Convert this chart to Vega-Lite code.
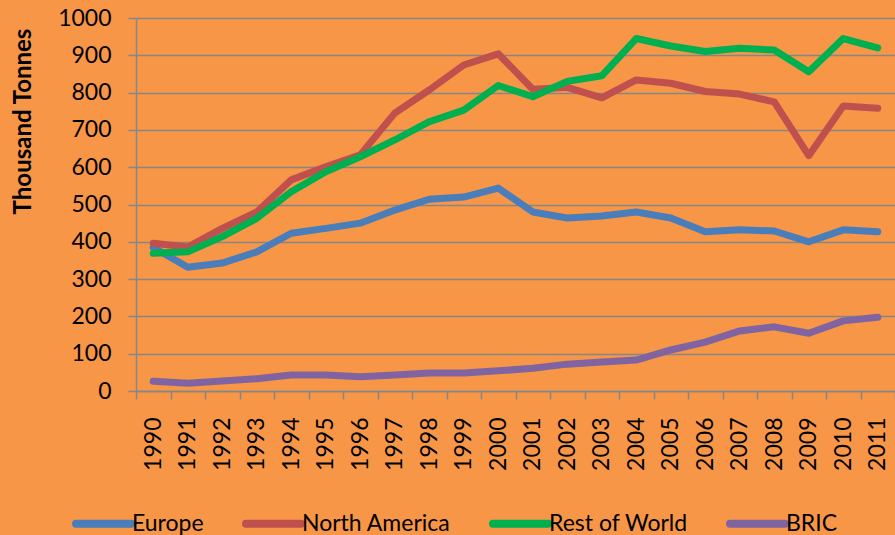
{
  "$schema": "https://vega.github.io/schema/vega-lite/v6.json",
  "autosize": "none",
  "width": 759,
  "height": 373,
  "padding": {"left": 136, "top": 18, "right": 0, "bottom": 144},
  "background": "#F79646",
  "config": {
    "view": {"stroke": null},
    "font": "Lato",
    "axis": {"labelFont": "Lato", "titleFont": "Lato", "labelColor": "#000000", "titleColor": "#000000"}
  },
  "data": {"values": [
    {"year":"1990","region":"Europe","value":385},{"year":"1991","region":"Europe","value":332},{"year":"1992","region":"Europe","value":343},{"year":"1993","region":"Europe","value":373},{"year":"1994","region":"Europe","value":423},{"year":"1995","region":"Europe","value":436},{"year":"1996","region":"Europe","value":450},{"year":"1997","region":"Europe","value":485},{"year":"1998","region":"Europe","value":514},{"year":"1999","region":"Europe","value":520},{"year":"2000","region":"Europe","value":544},{"year":"2001","region":"Europe","value":480},{"year":"2002","region":"Europe","value":464},{"year":"2003","region":"Europe","value":469},{"year":"2004","region":"Europe","value":480},{"year":"2005","region":"Europe","value":464},{"year":"2006","region":"Europe","value":427},{"year":"2007","region":"Europe","value":432},{"year":"2008","region":"Europe","value":429},{"year":"2009","region":"Europe","value":400},{"year":"2010","region":"Europe","value":432},{"year":"2011","region":"Europe","value":427},
    {"year":"1990","region":"North America","value":396},{"year":"1991","region":"North America","value":386},{"year":"1992","region":"North America","value":436},{"year":"1993","region":"North America","value":480},{"year":"1994","region":"North America","value":566},{"year":"1995","region":"North America","value":601},{"year":"1996","region":"North America","value":633},{"year":"1997","region":"North America","value":745},{"year":"1998","region":"North America","value":807},{"year":"1999","region":"North America","value":874},{"year":"2000","region":"North America","value":904},{"year":"2001","region":"North America","value":809},{"year":"2002","region":"North America","value":814},{"year":"2003","region":"North America","value":786},{"year":"2004","region":"North America","value":834},{"year":"2005","region":"North America","value":825},{"year":"2006","region":"North America","value":803},{"year":"2007","region":"North America","value":796},{"year":"2008","region":"North America","value":775},{"year":"2009","region":"North America","value":631},{"year":"2010","region":"North America","value":764},{"year":"2011","region":"North America","value":758},
    {"year":"1990","region":"Rest of World","value":369},{"year":"1991","region":"Rest of World","value":373},{"year":"1992","region":"Rest of World","value":414},{"year":"1993","region":"Rest of World","value":463},{"year":"1994","region":"Rest of World","value":534},{"year":"1995","region":"Rest of World","value":588},{"year":"1996","region":"Rest of World","value":628},{"year":"1997","region":"Rest of World","value":673},{"year":"1998","region":"Rest of World","value":722},{"year":"1999","region":"Rest of World","value":753},{"year":"2000","region":"Rest of World","value":819},{"year":"2001","region":"Rest of World","value":789},{"year":"2002","region":"Rest of World","value":830},{"year":"2003","region":"Rest of World","value":845},{"year":"2004","region":"Rest of World","value":945},{"year":"2005","region":"Rest of World","value":925},{"year":"2006","region":"Rest of World","value":910},{"year":"2007","region":"Rest of World","value":919},{"year":"2008","region":"Rest of World","value":914},{"year":"2009","region":"Rest of World","value":856},{"year":"2010","region":"Rest of World","value":945},{"year":"2011","region":"Rest of World","value":920},
    {"year":"1990","region":"BRIC","value":26},{"year":"1991","region":"BRIC","value":21},{"year":"1992","region":"BRIC","value":27},{"year":"1993","region":"BRIC","value":33},{"year":"1994","region":"BRIC","value":43},{"year":"1995","region":"BRIC","value":43},{"year":"1996","region":"BRIC","value":38},{"year":"1997","region":"BRIC","value":43},{"year":"1998","region":"BRIC","value":48},{"year":"1999","region":"BRIC","value":48},{"year":"2000","region":"BRIC","value":54},{"year":"2001","region":"BRIC","value":61},{"year":"2002","region":"BRIC","value":72},{"year":"2003","region":"BRIC","value":78},{"year":"2004","region":"BRIC","value":83},{"year":"2005","region":"BRIC","value":110},{"year":"2006","region":"BRIC","value":131},{"year":"2007","region":"BRIC","value":161},{"year":"2008","region":"BRIC","value":172},{"year":"2009","region":"BRIC","value":155},{"year":"2010","region":"BRIC","value":188},{"year":"2011","region":"BRIC","value":198}
  ]},
  "mark": {"type": "line", "strokeWidth": 7, "strokeCap": "round", "strokeJoin": "round"},
  "encoding": {
    "x": {
      "field": "year", "type": "ordinal",
      "scale": {"paddingInner": 0, "paddingOuter": 0},
      "axis": {
        "title": null, "labelAngle": -90, "labelFontSize": 23, "labelPadding": 18,
        "tickBand": "extent", "tickSize": 8, "tickColor": "#868686", "tickWidth": 1.5,
        "domainColor": "#868686", "domainWidth": 1.5, "grid": false
      }
    },
    "y": {
      "field": "value", "type": "quantitative",
      "scale": {"domain": [0, 1000], "nice": false},
      "axis": {
        "title": "Thousand Tonnes", "titleFontSize": 24, "titleFontWeight": "bold", "titlePadding": 22, "titleY": 103,
        "values": [0,100,200,300,400,500,600,700,800,900,1000], "format": "d",
        "labelFontSize": 23, "labelPadding": 17,
        "tickSize": 8, "tickColor": "#868686", "tickWidth": 1.5,
        "domainColor": "#868686", "domainWidth": 1.5,
        "grid": true, "gridColor": "#868686", "gridWidth": 1.5
      }
    },
    "color": {
      "field": "region", "type": "nominal",
      "scale": {"domain": ["Europe", "North America", "Rest of World", "BRIC"], "range": ["#4A7EBB", "#C0504D", "#00B050", "#8064A2"]},
      "legend": {
        "title": null, "orient": "none", "direction": "horizontal", "legendX": -64, "legendY": 474,
        "symbolType": "stroke", "symbolSize": 3025, "symbolStrokeWidth": 8,
        "labelFontSize": 23, "labelColor": "#000000", "labelOffset": -3, "columnPadding": 26,
        "encode": {"symbols": {"update": {"strokeCap": {"value": "round"}}}}
      }
    }
  }
}
